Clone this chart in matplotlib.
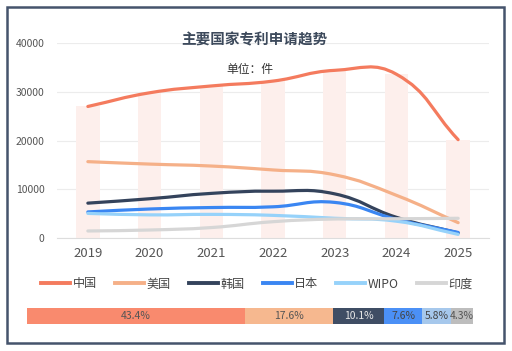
import numpy as np
import matplotlib
matplotlib.use('Agg')
import matplotlib.pyplot as plt
from matplotlib.path import Path
from matplotlib.patches import PathPatch, Rectangle
from matplotlib.lines import Line2D

plt.rcParams['font.family'] = ['Noto Sans CJK SC', 'DejaVu Sans']

# 数据
years = ['2019', '2020', '2021', '2022', '2023', '2024', '2025']
china = [27000, 29800, 31200, 32200, 34400, 33600, 20200]
usa = [15700, 15200, 14800, 14000, 13000, 8800, 3200]
korea = [7200, 8100, 9200, 9650, 9100, 4300, 1100]
japan = [5400, 6000, 6300, 6450, 7350, 3900, 1200]
wipo = [5100, 4800, 4900, 4700, 4100, 3500, 800]
india = [1500, 1700, 2200, 3400, 3950, 4000, 4100]

names = ['中国', '美国', '韩国', '日本', 'WIPO', '印度']
series = [china, usa, korea, japan, wipo, india]
line_colors = ['#f47b5e', '#f5b088', '#34435c', '#3a86f2', '#96d2fa', '#d6d6d6']

share = [43.4, 17.6, 10.1, 7.6, 5.8, 4.3]
share_colors = ['#f98a6e', '#f6b88f', '#3f4d64', '#4b90f6', '#a6c8ec', '#bdbdbd']
share_text = ['#555555', '#555555', '#e8e8e8', '#444444', '#444444', '#555555']

fig = plt.figure(figsize=(5.12, 3.51), dpi=100)
W, H = 512, 351

ax = fig.add_axes([57 / W, (H - 238.3) / H, 432 / W, (238.3 - 43) / H])
x = np.arange(len(years))
ax.set_xlim(-0.5, len(years) - 0.5)
ax.set_ylim(0, 40000)

# 背景柱
ax.bar(x, china, width=0.38, color='#fdefec', zorder=1)


def smooth_path(xs, ys, smooth=0.45):
    # echarts 风格的平滑曲线，在像素坐标中计算控制点
    pts = ax.transData.transform(np.column_stack([xs, ys]))
    n = len(pts)
    cps = []
    for i in range(n):
        p = pts[i]
        prev = pts[i - 1] if i > 0 else p
        nxt = pts[i + 1] if i < n - 1 else p
        v = (nxt - prev) * smooth
        d0 = np.hypot(*(p - prev))
        d1 = np.hypot(*(p - nxt))
        tot = d0 + d1
        if tot == 0:
            cps.append((p, p))
            continue
        cps.append((p - v * d0 / tot, p + v * d1 / tot))
    verts = [pts[0]]
    codes = [Path.MOVETO]
    for i in range(n - 1):
        verts += [cps[i][1], cps[i + 1][0], pts[i + 1]]
        codes += [Path.CURVE4] * 3
    verts = ax.transData.inverted().transform(np.array(verts))
    return Path(verts, codes)


handles = []
for name, vals, c in zip(names, series, line_colors):
    patch = PathPatch(smooth_path(x, vals), facecolor='none', edgecolor=c,
                      lw=2.3, capstyle='round', joinstyle='round', zorder=3)
    ax.add_patch(patch)
    handles.append(Line2D([], [], color=c, lw=2.8, label=name))

ax.set_yticks([0, 10000, 20000, 30000, 40000])
ax.set_xticks(x)
ax.set_xticklabels(years)
ax.grid(axis='y', color='#ececec', lw=0.8, zorder=0)
ax.set_axisbelow(True)
for s in ['top', 'right', 'left']:
    ax.spines[s].set_visible(False)
ax.spines['bottom'].set_color('#dddddd')
ax.tick_params(axis='y', length=0, pad=9, labelsize=7.5, labelcolor='#555555')
ax.tick_params(axis='x', length=0, pad=6, labelsize=9.5, labelcolor='#555555')

fig.text(254 / W, 1 - 39 / H, '主要国家专利申请趋势', ha='center', va='center',
         fontsize=10.5, fontweight='bold', color='#3d4a5c')
fig.text(250 / W, 1 - 70 / H, '单位：件', ha='center', va='center',
         fontsize=8.5, color='#333333')

fig.legend(handles=handles, loc='center', bbox_to_anchor=(257 / W, 1 - 284 / H),
           ncol=6, frameon=False, fontsize=8.7, handlelength=2.4,
           handletextpad=0.2, columnspacing=1.5, labelcolor='#444444')

# 底部占比条
bx = fig.add_axes([27 / W, (H - 324) / H, 446 / W, 16 / H])
left = 0
for val, c, tc in zip(share, share_colors, share_text):
    bx.barh(0, val, left=left, height=1, color=c)
    bx.text(left + val / 2, 0, f'{val}%', ha='center', va='center',
            fontsize=7.5, color=tc)
    left += val
bx.set_xlim(0, sum(share))
bx.set_ylim(-0.5, 0.5)
bx.axis('off')

fig.patches.append(Rectangle((7 / W, 7.7 / H), 496.5 / W, 336 / H, fill=False,
                             edgecolor='#45546c', lw=1.8, transform=fig.transFigure))

fig.savefig('out.png', dpi=100)
